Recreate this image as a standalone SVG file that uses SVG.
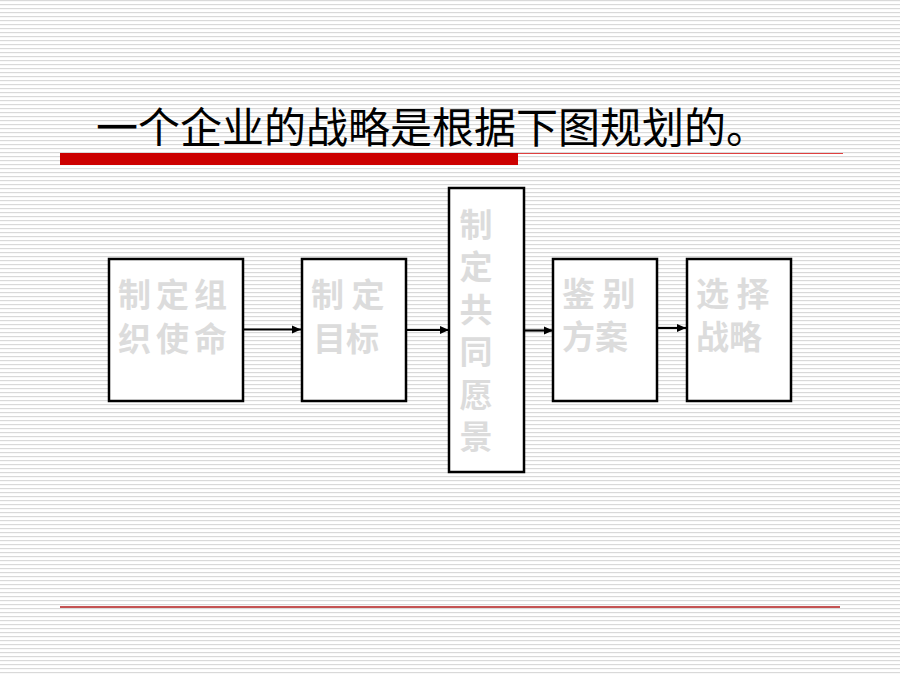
<svg xmlns="http://www.w3.org/2000/svg" width="900" height="675" viewBox="0 0 900 675">
<defs>
<pattern id="stripes" x="0" y="0" width="8" height="4" patternUnits="userSpaceOnUse">
<rect x="0" y="0" width="8" height="1.2" fill="#d9d9d9"/>
</pattern>
<marker id="arr" markerWidth="9" markerHeight="9" refX="9" refY="4.5" orient="auto" markerUnits="userSpaceOnUse">
<path d="M0,0.5 L9,4.5 L0,8.5 Z" fill="#000"/>
</marker>
<style>
.box{fill:#fff;stroke:#000;stroke-width:2.5}
.lbl{font-family:"Noto Sans CJK SC","Noto Sans CJK JP",sans-serif;font-size:33px;font-weight:bold;fill:#dcdcdc}
.vl{text-anchor:middle}
.conn{stroke:#000;stroke-width:2.2;fill:none;marker-end:url(#arr)}
.title{font-family:"Noto Sans CJK SC","Noto Sans CJK JP",sans-serif;font-size:42px;fill:#000}
</style>
</defs>
<rect width="900" height="675" fill="#fff"/>
<rect width="900" height="675" fill="url(#stripes)"/>
<text class="title" x="96" y="143">一个企业的战略是根据下图规划的。</text>
<rect x="60" y="153" width="458" height="12" fill="#cc0000"/>
<line x1="518" y1="153.5" x2="843" y2="153.5" stroke="#e04040" stroke-width="1.2"/>
<line x1="60" y1="607" x2="840" y2="607" stroke="#b01818" stroke-width="1.5"/>
<g id="connectors">
<line class="conn" x1="243" y1="329.5" x2="301" y2="329.5"/>
<line class="conn" x1="406" y1="330" x2="449" y2="330"/>
<line class="conn" x1="524" y1="330.5" x2="553" y2="330.5"/>
<line class="conn" x1="657" y1="328" x2="686" y2="328"/>
</g>
<g id="node1">
<rect class="box" x="109" y="259" width="134" height="142"/>
<text class="lbl"><tspan x="118" y="307" textLength="109" lengthAdjust="spacing">制定组</tspan><tspan x="118" y="351" textLength="109" lengthAdjust="spacing">织使命</tspan></text>
</g>
<g id="node2">
<rect class="box" x="302" y="259" width="104" height="142"/>
<text class="lbl"><tspan x="311" y="307">制 定</tspan><tspan x="313" y="351">目标</tspan></text>
</g>
<g id="node3">
<rect class="box" x="449" y="188" width="75" height="284"/>
<text class="lbl vl"><tspan x="476" y="237">制</tspan><tspan x="476" y="279.4">定</tspan><tspan x="476" y="321.8">共</tspan><tspan x="476" y="364.2">同</tspan><tspan x="476" y="406.6">愿</tspan><tspan x="476" y="449">景</tspan></text>
</g>
<g id="node4">
<rect class="box" x="553" y="259" width="104" height="142"/>
<text class="lbl"><tspan x="562" y="306">鉴 别</tspan><tspan x="562" y="349">方案</tspan></text>
</g>
<g id="node5">
<rect class="box" x="687" y="259" width="104" height="142"/>
<text class="lbl"><tspan x="696" y="306">选 择</tspan><tspan x="696" y="349">战略</tspan></text>
</g>
</svg>
